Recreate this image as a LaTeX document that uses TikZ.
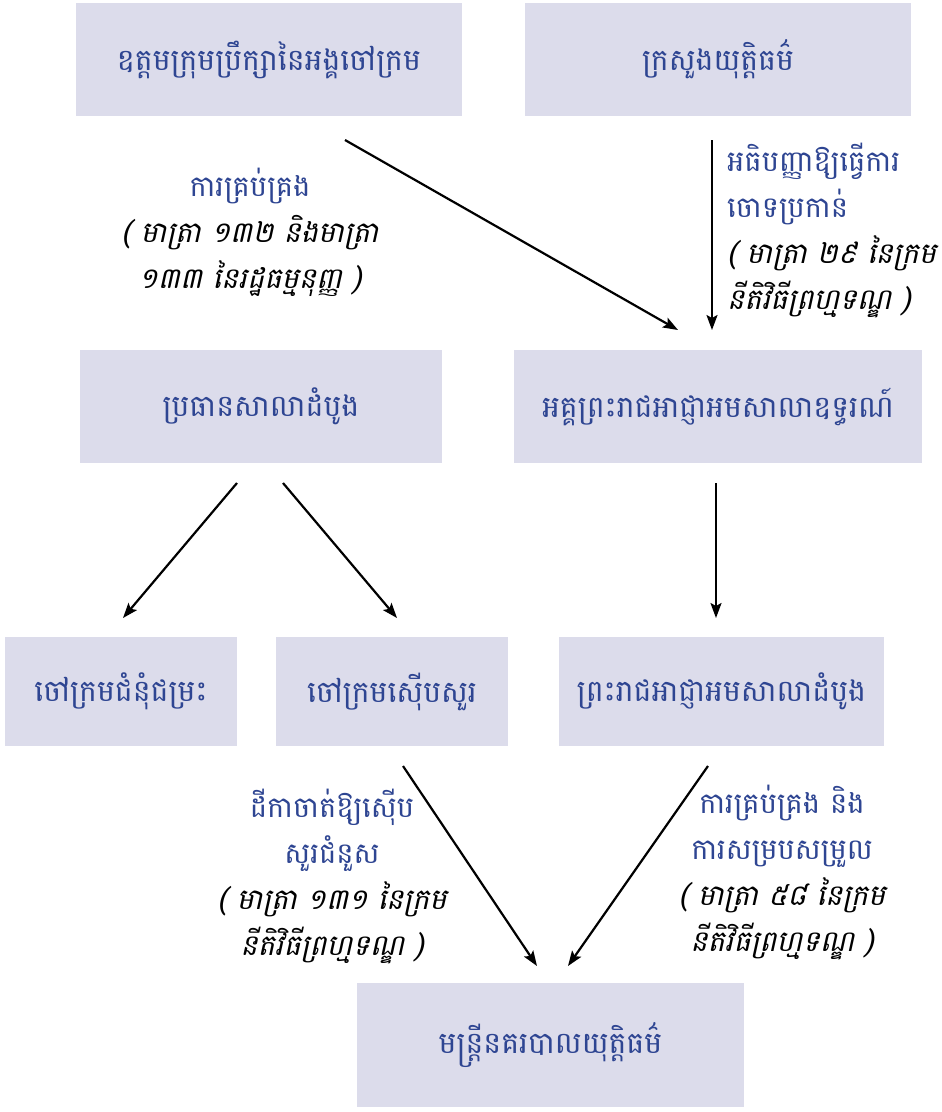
\documentclass[tikz,border=0pt]{standalone}
\usepackage{fontspec}
\newfontfamily\khmer[Script=Khmer]{Battambang}
\newfontfamily\khmerit[Script=Khmer,FakeSlant=0.22]{Battambang}
\usepackage{xcolor}
\usepackage{tikz}
\usetikzlibrary{arrows,arrows.meta,positioning,calc}
\definecolor{boxfill}{HTML}{DCDCEB}
\definecolor{boxtext}{HTML}{2E4592}
\tikzstyle{line} = [draw, -{Stealth[length=15pt,width=11pt,inset=3pt]}, line width=2.2pt]
\tikzstyle{organ} = [fill=boxfill, text=boxtext, inner sep=0pt, font=\khmer\fontsize{30}{36}\selectfont]
\tikzstyle{note} = [text=boxtext, inner sep=0pt, font=\khmer\fontsize{29}{46}\selectfont]
\newcommand{\artref}[1]{{\color{black}\khmerit #1}}

\begin{document}
\begin{tikzpicture}[x=1pt,y=-1pt]
   		\useasboundingbox (0,0) rectangle (942,1112); % page size
   		% organs
   		\node (council) [organ, minimum width=386pt, minimum height=113pt] at (269,59.5) {ឧត្តមក្រុមប្រឹក្សានៃអង្គចៅក្រម};
   		\node (ministry) [organ, minimum width=386pt, minimum height=113pt] at (718,59.5) {ក្រសួងយុត្តិធម៌};
   		\node (president) [organ, minimum width=362pt, minimum height=113pt] at (261,406.5) {ប្រធានសាលាដំបូង};
   		\node (genpros) [organ, minimum width=408pt, minimum height=113pt] at (718,406.5) {អគ្គព្រះរាជអាជ្ញាអមសាលាឧទ្ធរណ៍};
   		\node (trialjudge) [organ, minimum width=232pt, minimum height=109pt] at (121,691.5) {ចៅក្រមជំនុំជម្រះ};
   		\node (invjudge) [organ, minimum width=232pt, minimum height=109pt] at (392,691.5) {ចៅក្រមស៊ើបសួរ};
   		\node (prosecutor) [organ, minimum width=325pt, minimum height=109pt] at (721.5,691.5) {ព្រះរាជអាជ្ញាអមសាលាដំបូង};
   		\node (police) [organ, minimum width=387pt, minimum height=124pt] at (550.5,1045) {មន្ត្រីនគរបាលយុត្តិធម៌};
   		% arrow ends
   		\coordinate (c1) at (345,140); \coordinate (c2) at (678,330); % council to general prosecutor
   		\coordinate (m1) at (712,140); \coordinate (m2) at (712,330); % ministry to general prosecutor
   		\coordinate (p1) at (237,483); \coordinate (p2) at (123,618); % president to trial judge
   		\coordinate (p3) at (283,483); \coordinate (p4) at (397,618); % president to investigating judge
   		\coordinate (g1) at (716,483); \coordinate (g2) at (716,618); % general prosecutor to prosecutor
   		\coordinate (i1) at (403,766); \coordinate (i2) at (537,966); % investigating judge to police
   		\coordinate (r1) at (708,766); \coordinate (r2) at (568,966); % prosecutor to police
   		\draw[line] (c1) -- (c2);
   		\draw[line] (m1) -- (m2);
   		\draw[line] (p1) -- (p2);
   		\draw[line] (p3) -- (p4);
   		\draw[line] (g1) -- (g2);
   		\draw[line] (i1) -- (i2);
   		\draw[line] (r1) -- (r2);
   		% notes
   		\node (manage) [note, align=center] at (250,232) {ការគ្រប់គ្រង\\\artref{( មាត្រា ១៣២ និងមាត្រា}\\\artref{១៣៣ នៃរដ្ឋធម្មនុញ្ញ )}};
   		\node (order) [note, align=left, anchor=west] at (727,230) {អធិបញ្ញាឱ្យធ្វើការ\\ចោទប្រកាន់\\\artref{( មាត្រា ២៩ នៃក្រម}\\\artref{នីតិវិធីព្រហ្មទណ្ឌ )}};
   		\node (delegate) [note, align=center] at (332,876) {ដីកាចាត់ឱ្យស៊ើប\\សួរជំនួស\\\artref{( មាត្រា ១៣១ នៃក្រម}\\\artref{នីតិវិធីព្រហ្មទណ្ឌ )}};
   		\node (coord) [note, align=center] at (782,872) {ការគ្រប់គ្រង និង\\ការសម្របសម្រួល\\\artref{( មាត្រា ៥៨ នៃក្រម}\\\artref{នីតិវិធីព្រហ្មទណ្ឌ )}};
\end{tikzpicture}
\end{document}
